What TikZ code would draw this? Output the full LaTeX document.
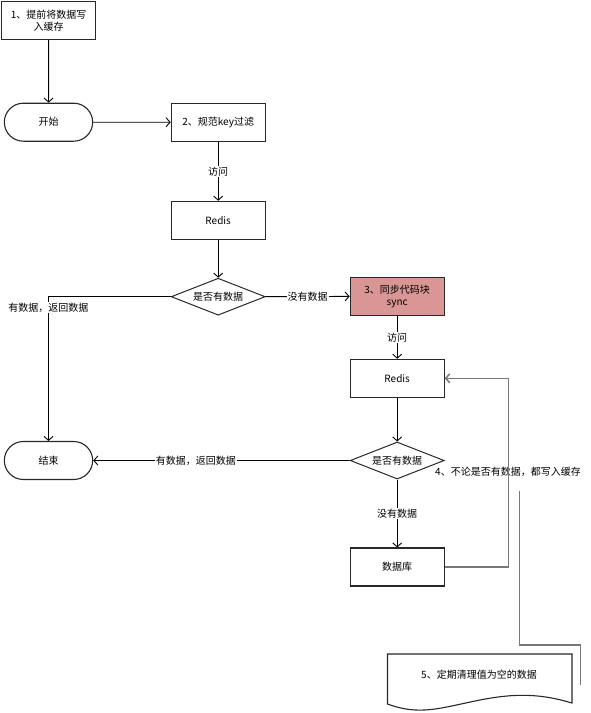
\documentclass[tikz,border=0pt]{standalone}
\usepackage{fontspec}
\setmainfont{Noto Sans CJK SC}
\usetikzlibrary{arrows.meta,shapes.geometric,shapes.misc,calc}
\definecolor{pinkfill}{RGB}{217,150,148}
\definecolor{gline}{RGB}{120,120,120}
\definecolor{bline}{RGB}{40,40,40}
\begin{document}
\begin{tikzpicture}[x=1pt,y=-1pt,
  font=\fontsize{10}{12}\selectfont,
  box/.style={draw=bline,line width=1.1pt,minimum width=94pt,minimum height=38pt,inner sep=1pt,align=center},
  term/.style={draw=bline,line width=1.1pt,rounded rectangle,minimum width=95pt,minimum height=38pt},
  dec/.style={draw=bline,line width=1pt,diamond,aspect=2.54,minimum width=94pt,minimum height=37pt,inner sep=0pt},
  conn/.style={draw=black,line width=0.9pt,-{Straight Barb[length=4pt,width=9pt]}},
  grayline/.style={draw=gline,line width=1.5pt},
  lab/.style={fill=white,inner sep=1pt}]
\useasboundingbox (0,0) rectangle (591,713);

\node[box] (n1) at (48.7,20.3) {1、提前将数据写\\入缓存};
\node[term] (start) at (48.5,122.2) {开始};
\node[box] (n2) at (218.2,122.2) {2、规范key过滤};
\node[box] (r1) at (218.2,220.3) {Redis};
\node[dec] (d1) at (218.2,296.7) {是否有数据};
\node[box,fill=pinkfill] (n3) at (397.2,296.3) {3、同步代码块\\sync};
\node[box] (r2) at (397.2,378.3) {Redis};
\node[dec] (d2) at (397.2,460.5) {是否有数据};
\node[term] (end) at (48.5,460.5) {结束};
\node[box] (db) at (397.2,567) {数据库};
\node[inner sep=1pt] (lab4) at (508,472) {4、不论是否有数据，都写入缓存};
\node[inner sep=1pt] (doc) at (479,675) {5、定期清理值为空的数据};

\draw[draw=bline,line width=1.1pt] (387.5,654) -- (572,654) -- (572,703)
  .. controls (545,695) and (520,692) .. (480,700)
  .. controls (440,708) and (420,716) .. (387.5,704) -- cycle;

\draw[conn] (n1) -- (start);
\draw[conn] (start) -- (n2);
\draw[conn] (n2) -- node[lab]{访问} (r1);
\draw[conn] (r1) -- (d1);
\draw[conn] (d1) -- node[lab]{没有数据} (n3);
\draw[conn] (d1.west) -| node[lab,pos=0.538]{有数据，返回数据} (end.north);
\draw[conn] (n3) -- node[lab]{访问} (r2);
\draw[conn] (r2) -- (d2);
\draw[conn] (d2) -- node[lab,pos=0.6]{有数据，返回数据} (end);
\draw[conn] (d2) -- node[lab]{没有数据} (db);
\draw[grayline,-{Straight Barb[length=4pt,width=9pt]}] (db.east) -- ++(63.5,0) |- (r2.east);

\coordinate (g1) at (519.5,491);
\coordinate (g2) at (580.7,685);
\draw[grayline] (g1) -- (519.5,645) -- (580.7,645) -- (g2);
\end{tikzpicture}
\end{document}
